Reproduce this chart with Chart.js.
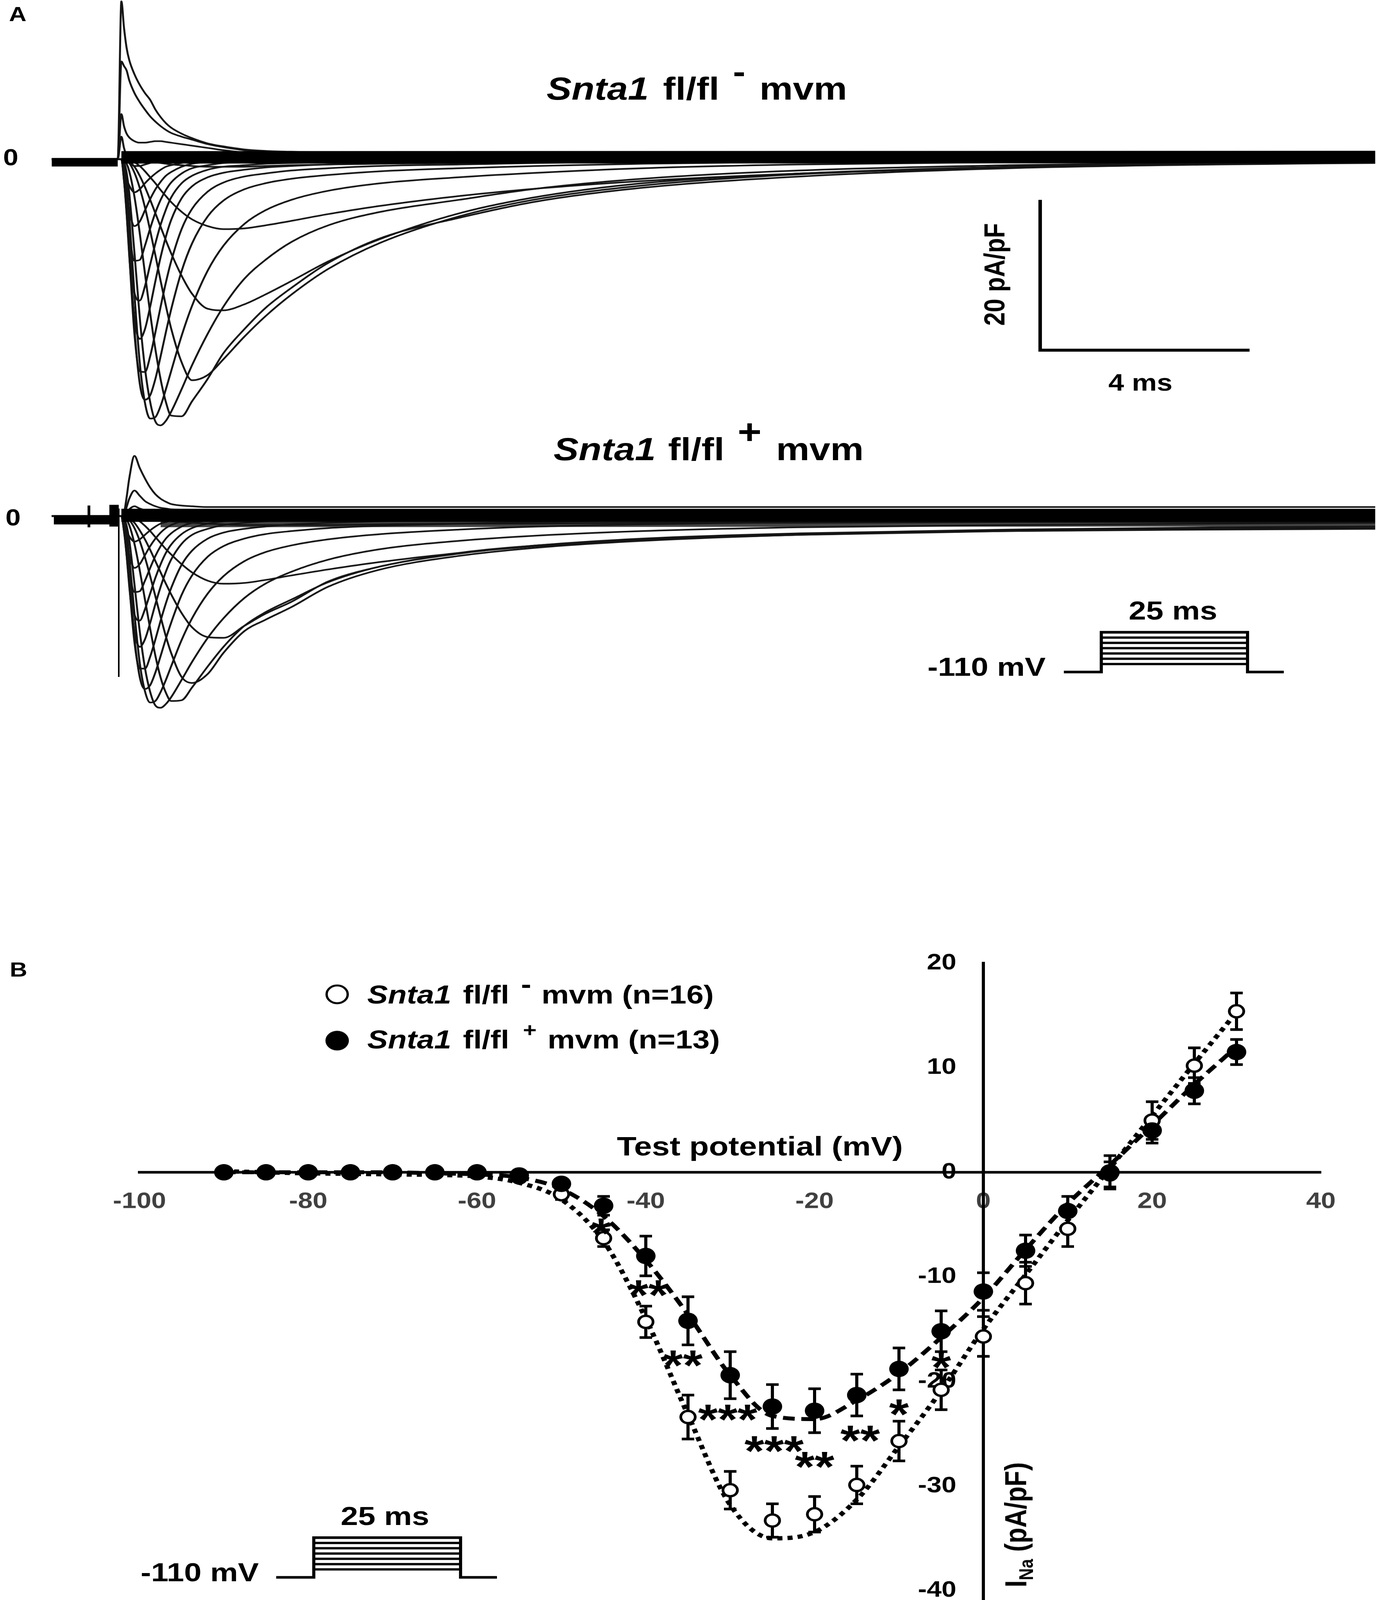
<!DOCTYPE html>
<html><head><meta charset="utf-8">
<script src="https://cdn.jsdelivr.net/npm/chart.js@4.4.1/dist/chart.umd.min.js"></script>
<style>
html{margin:0;padding:0;background:#fff;overflow:hidden;}
body{margin:0;padding:0;background:#fff;width:3522px;height:4874px;position:relative;overflow:hidden;font-family:'Liberation Sans',Arial,sans-serif;font-weight:bold;color:#000;transform-origin:0 0;}
canvas{position:absolute;}
.t{position:absolute;line-height:1;white-space:nowrap;z-index:5;}
.sp{position:relative;line-height:0;}
.rot{transform:translate(-50%,-50%) rotate(-90deg);}
.mk{position:absolute;width:60px;height:60px;border-radius:50%;box-sizing:border-box;z-index:5;}
</style></head><body>
<canvas id="cA" width="3522" height="2300" style="left:0;top:0"></canvas>
<canvas id="cPA" width="583" height="141" style="left:2713px;top:1916px"></canvas>
<canvas id="cB" width="3522" height="2300" style="left:0;top:2700px"></canvas>
<canvas id="cPB" width="585" height="141" style="left:697px;top:4674px"></canvas>

<div class="t" style="left:23px;top:12px;font-size:62px">A</div>
<div class="t" style="left:8px;top:444px;font-size:70px">0</div>
<div class="t" style="left:14px;top:1542px;font-size:70px">0</div>
<div class="t" style="left:1399px;top:222px;font-size:96px"><i>Snta1</i> <span style="margin-left:10px">fl/fl</span><span class="sp" style="top:-52px;margin-left:35px">-</span><span style="margin-left:36px">mvm</span></div>
<div class="t" style="left:1417px;top:1321px;font-size:96px"><i>Snta1</i> <span style="margin-left:5px">fl/fl</span><span class="sp" style="top:-50px;margin-left:34px;font-size:105px">+</span><span style="margin-left:37px">mvm</span></div>
<div class="t rot" style="left:2546px;top:836px;font-size:74px">20 pA/pF</div>
<div class="t" style="left:2837px;top:1129px;font-size:72px">4 ms</div>
<div class="t" style="left:2374px;top:1992px;font-size:80px">-110 mV</div>
<div class="t" style="left:2889px;top:1820px;font-size:80px">25 ms</div>

<div class="t" style="left:25px;top:2923px;font-size:62px">B</div>
<div class="mk" style="left:833px;top:2999px;border:6px solid #000;background:#fff"></div>
<div class="mk" style="left:833px;top:3140px;background:#000"></div>
<div class="t" style="left:940px;top:2990px;font-size:79px"><i>Snta1</i> <span style="margin-left:8px">fl/fl</span><span class="sp" style="top:-32px;margin-left:30px">-</span><span style="margin-left:26px">mvm (n=16)</span></div>
<div class="t" style="left:940px;top:3127px;font-size:79px"><i>Snta1</i> <span style="margin-left:8px">fl/fl</span><span class="sp" style="top:-36px;margin-left:35px;font-size:60px">+</span><span style="margin-left:28px">mvm (n=13)</span></div>
<div class="t" style="left:1579px;top:3451px;font-size:82px">Test potential (mV)</div>
<div class="t rot" style="left:2600px;top:4645px;font-size:78px">I<sub style="font-size:0.65em;line-height:0">Na</sub> (pA/pF)</div>
<div class="t" style="left:360px;top:4750px;font-size:80px">-110 mV</div>
<div class="t" style="left:872px;top:4579px;font-size:80px">25 ms</div>

<script>
// fit the full 3522x4874 figure into the viewport if the window is shorter
(function () {
  const k = Math.min(1, window.innerHeight / 4874);
  if (k < 1) document.body.style.transform = 'scale(1,' + k + ')';
})();

// ---------- Panel B : I-V data ----------
const voltages   = [-90,-85,-80,-75,-70,-65,-60,-55,-50,-45,-40,-35,-30,-25,-20,-15,-10,-5,0,5,10,15,20,25,30];
const minusMean  = [0,0,0,0,0,0,0,-0.5,-2.1,-6.3,-14.3,-23.4,-30.4,-33.3,-32.7,-29.9,-25.7,-20.8,-15.7,-10.6,-5.4,-0.2,4.95,10.2,15.4];
const minusSem   = [0,0,0,0,0,0,0.2,0.3,0.5,0.8,1.5,2.1,1.8,1.6,1.7,1.8,1.9,1.9,1.9,2.0,1.7,1.2,1.8,1.7,1.75];
const plusMean   = [0,0,0,0,0,0,0,-0.3,-1.1,-3.2,-8.0,-14.2,-19.4,-22.4,-22.8,-21.3,-18.8,-15.2,-11.4,-7.5,-3.7,0.0,4.0,7.8,11.5];
const plusSem    = [0,0,0,0,0,0,0.2,0.2,0.4,0.9,1.9,2.3,2.25,2.1,2.1,2.0,2.0,1.95,1.8,1.5,1.4,1.6,1.2,1.25,1.2];
const minusTrend = [0.1,0,-0.1,-0.15,-0.2,-0.25,-0.4,-1.0,-2.6,-6.6,-14.0,-23.2,-31.8,-35.0,-34.4,-31.3,-26.2,-20.9,-15.0,-9.8,-4.6,0.4,5.4,10.4,15.3];
const plusTrend  = [0,0,0,0,0,-0.1,-0.2,-0.5,-1.6,-4.2,-8.4,-13.6,-19.4,-23.3,-23.6,-21.8,-19.2,-15.8,-12.0,-7.4,-3.0,0.7,4.5,8.4,12.0];
const xTicks     = [-100,-80,-60,-40,-20,0,20,40];
const yTicks     = [-40,-30,-20,-10,0,10,20];
const starX      = [-45.3,-39.7,-35.6,-30.3,-24.8,-20.0,-14.6,-10.0,-5.0];
const starY      = [-5.2,-11.1,-17.8,-23.0,-26.0,-27.5,-25.0,-22.5,-18.0];
const starText   = ['*','**','**','***','***','**','**','*','*'];

// ---------- Panel A : current traces (time ms, current pA/pF) ----------
const traceTime = [-1.28,-0.02,0.05,0.1,0.15,0.2,0.3,0.4,0.5,0.6,0.7,0.8,0.9,1.0,1.2,1.4,1.7,2.0,2.4,2.8,3.3,4.0,5.0,6.5,8.0,10,13,17,21,24];
// Snta1 fl/fl - mvm
const mi_m55 = [0,0,0,0,0,0,0,-0.1,-0.2,-0.3,-0.4,-0.5,-0.6,-0.7,-0.8,-0.9,-1.0,-1.0,-1.0,-0.9,-0.8,-0.7,-0.6,-0.5,-0.4,-0.35,-0.3,-0.25,-0.2,-0.2];
const mi_m50 = [0,0,0,0,0,-0.1,-0.4,-0.9,-1.6,-2.4,-3.2,-4.1,-4.9,-5.7,-7.0,-8.0,-8.9,-9.3,-9.2,-8.8,-8.2,-7.3,-6.2,-4.9,-3.9,-2.9,-1.9,-1.1,-0.6,-0.4];
const mi_m45 = [0,0,0,0,-0.1,-0.3,-1.0,-2.2,-3.7,-5.4,-7.2,-9.0,-10.8,-12.5,-15.5,-17.9,-19.9,-20.1,-19.3,-18.0,-16.2,-13.6,-10.6,-7.2,-5.0,-3.2,-1.9,-1.0,-0.6,-0.4];
const mi_m40 = [0,0,0,0,-0.2,-0.5,-1.8,-3.8,-6.4,-9.5,-12.8,-16.2,-19.5,-22.5,-27.0,-29.4,-28.7,-26.6,-23.6,-20.9,-18.0,-14.6,-11.1,-7.6,-5.3,-3.5,-2.0,-1.1,-0.6,-0.4];
const mi_m35 = [0,0,0,-0.1,-0.6,-1.6,-5.0,-9.8,-15.2,-20.5,-25.3,-29.3,-32.3,-34.1,-34.2,-32.2,-29.2,-25.8,-22.6,-19.8,-17.1,-13.8,-10.5,-7.8,-5.6,-3.8,-2.3,-1.2,-0.7,-0.5];
const mi_m30 = [0,0,0,-0.4,-1.8,-4.5,-12.5,-21.0,-27.8,-32.3,-34.9,-35.4,-34.8,-33.6,-30.6,-27.4,-23.2,-19.6,-15.9,-13.4,-11.0,-8.8,-7.0,-5.4,-3.9,-2.6,-1.5,-0.8,-0.4,-0.3];
const mi_m25 = [0,0,0,-0.8,-3.2,-7.5,-18.0,-27.0,-32.4,-34.5,-34.3,-32.8,-30.6,-28.2,-23.5,-19.5,-14.8,-11.5,-8.6,-6.8,-5.4,-4.2,-3.2,-2.4,-1.8,-1.2,-0.7,-0.4,-0.2,-0.1];
const mi_m20 = [0,0,0,-1.3,-4.8,-10.5,-22.5,-29.8,-32.0,-31.4,-29.2,-26.2,-23.0,-20.0,-14.9,-11.2,-7.6,-5.5,-4.0,-3.2,-2.6,-2.1,-1.6,-1.2,-0.9,-0.6,-0.35,-0.2,-0.1,0];
const mi_m15 = [0,0,0,-2.0,-6.5,-12.5,-23.3,-28.2,-28.3,-26.2,-23.0,-19.6,-16.4,-13.6,-9.3,-6.6,-4.3,-3.1,-2.3,-1.9,-1.5,-1.2,-0.9,-0.7,-0.5,-0.35,-0.2,-0.1,0,0];
const mi_m10 = [0,0,0,-2.5,-7.2,-12.8,-21.2,-23.9,-22.6,-19.6,-16.2,-13.0,-10.3,-8.1,-5.2,-3.6,-2.4,-1.8,-1.4,-1.1,-0.9,-0.7,-0.55,-0.4,-0.3,-0.2,-0.1,0,0,0];
const mi_m5  = [0,0,0,-2.8,-7.2,-12.0,-17.8,-18.8,-16.9,-14.0,-11.2,-8.7,-6.7,-5.1,-3.2,-2.2,-1.4,-1.0,-0.8,-0.6,-0.5,-0.4,-0.3,-0.2,-0.15,-0.1,0,0,0,0];
const mi_p0  = [0,0,0,-2.8,-6.4,-9.8,-13.5,-13.4,-11.5,-9.2,-7.1,-5.4,-4.1,-3.1,-1.9,-1.2,-0.8,-0.5,-0.4,-0.3,-0.25,-0.2,-0.15,-0.1,0,0,0,0,0,0];
const mi_p5  = [0,0,0,-2.2,-4.6,-6.8,-8.9,-8.3,-6.8,-5.3,-4.0,-3.0,-2.2,-1.7,-1.0,-0.6,-0.4,-0.3,-0.2,-0.15,-0.1,-0.1,0,0,0,0,0,0,0,0];
const mi_p10 = [0,0,0,-1.3,-2.6,-3.5,-4.4,-4.0,-3.2,-2.5,-1.9,-1.4,-1.0,-0.8,-0.5,-0.3,-0.2,-0.1,-0.1,0,0,0,0,0,0,0,0,0,0,0];
const mi_p15 = [0,0,3.0,1.5,0.4,-0.3,-0.9,-0.9,-0.7,-0.5,-0.3,-0.2,-0.1,0,0.1,0.1,0.15,0.2,0.2,0.2,0.2,0.2,0.2,0.2,0.2,0.2,0.2,0.2,0.2,0.2];
const mi_p20 = [0,0,6.0,4.4,3.4,2.9,2.4,2.2,2.2,2.3,2.4,2.4,2.3,2.2,2.0,1.8,1.5,1.2,0.9,0.7,0.6,0.5,0.45,0.4,0.4,0.4,0.4,0.4,0.4,0.4];
const mi_p25 = [0,0,13.0,12.4,11.8,10.5,8.8,7.6,6.6,5.7,5.0,4.4,3.9,3.5,3.0,2.6,2.0,1.6,1.2,1.0,0.8,0.7,0.65,0.6,0.6,0.6,0.6,0.6,0.6,0.6];
const mi_p30 = [0,0,21.0,17.5,14.8,13.2,11.3,9.9,8.8,7.9,6.6,5.6,4.8,4.2,3.4,2.8,2.1,1.7,1.3,1.1,1.0,0.9,0.85,0.8,0.8,0.8,0.8,0.8,0.8,0.8];
// Snta1 fl/fl + mvm
const pl_m55 = [0,0,0,0,0,0,0,-0.1,-0.2,-0.3,-0.4,-0.5,-0.6,-0.7,-0.8,-0.9,-1.0,-1.1,-1.2,-1.2,-1.2,-1.2,-1.1,-1.0,-1.0,-0.9,-0.9,-0.8,-0.8,-0.8];
const pl_m50 = [0,0,0,0,0,-0.1,-0.3,-0.7,-1.3,-2.0,-2.8,-3.6,-4.4,-5.1,-6.4,-7.5,-8.6,-9.0,-8.9,-8.5,-7.9,-7.1,-6.1,-4.9,-4.0,-3.2,-2.5,-2.0,-1.7,-1.6];
const pl_m45 = [0,0,0,0,-0.1,-0.3,-0.9,-1.9,-3.1,-4.5,-6.0,-7.5,-9.0,-10.4,-12.9,-14.8,-16.1,-16.2,-14.6,-13.0,-11.4,-8.7,-6.7,-4.9,-3.9,-3.1,-2.4,-1.9,-1.7,-1.6];
const pl_m40 = [0,0,0,0,-0.2,-0.5,-1.6,-3.3,-5.5,-8.0,-10.7,-13.4,-16.0,-18.2,-21.4,-22.2,-21.0,-18.2,-15.3,-13.8,-12.1,-9.4,-7.1,-5.3,-4.2,-3.3,-2.5,-2.0,-1.8,-1.7];
const pl_m35 = [0,0,0,-0.1,-0.5,-1.2,-3.7,-7.2,-11.1,-15.0,-18.6,-21.5,-23.5,-24.6,-24.5,-22.8,-20.0,-17.4,-14.6,-12.8,-11.1,-8.8,-6.7,-5.0,-3.9,-3.0,-2.3,-1.8,-1.5,-1.4];
const pl_m30 = [0,0,0,-0.3,-1.3,-3.2,-9.1,-15.3,-20.2,-23.4,-25.2,-25.5,-25.0,-24.1,-21.8,-19.4,-16.2,-13.6,-10.9,-9.0,-7.4,-5.8,-4.4,-3.3,-2.6,-2.0,-1.5,-1.2,-1.0,-0.9];
const pl_m25 = [0,0,0,-0.6,-2.3,-5.4,-13.0,-19.5,-23.3,-24.8,-24.6,-23.4,-21.8,-20.0,-16.5,-13.6,-10.3,-8.0,-6.0,-4.8,-3.9,-3.1,-2.4,-1.8,-1.4,-1.1,-0.8,-0.6,-0.5,-0.5];
const pl_m20 = [0,0,0,-0.9,-3.4,-7.5,-16.2,-21.4,-23.0,-22.5,-20.8,-18.6,-16.3,-14.2,-10.5,-7.9,-5.4,-4.0,-3.0,-2.4,-2.0,-1.6,-1.3,-1.0,-0.8,-0.6,-0.5,-0.4,-0.3,-0.3];
const pl_m15 = [0,0,0,-1.4,-4.7,-9.0,-16.8,-20.3,-20.3,-18.7,-16.4,-13.9,-11.6,-9.6,-6.5,-4.6,-3.0,-2.2,-1.7,-1.4,-1.1,-0.9,-0.7,-0.6,-0.5,-0.4,-0.3,-0.2,-0.2,-0.2];
const pl_m10 = [0,0,0,-1.8,-5.2,-9.3,-15.4,-17.4,-16.4,-14.2,-11.7,-9.4,-7.4,-5.8,-3.7,-2.5,-1.7,-1.2,-0.9,-0.7,-0.6,-0.5,-0.4,-0.3,-0.2,-0.2,-0.1,-0.1,0,0];
const pl_m5  = [0,0,0,-2.0,-5.2,-8.8,-13.1,-13.9,-12.4,-10.3,-8.2,-6.4,-4.9,-3.8,-2.4,-1.6,-1.0,-0.7,-0.5,-0.4,-0.3,-0.3,-0.2,-0.2,-0.1,0,0,0,0,0];
const pl_p0  = [0,0,0,-2.0,-4.6,-7.3,-10.1,-10.0,-8.6,-6.9,-5.3,-4.0,-3.0,-2.3,-1.4,-0.9,-0.6,-0.4,-0.3,-0.2,-0.2,-0.1,0,0,0,0,0,0,0,0];
const pl_p5  = [0,0,0,-1.6,-3.5,-5.2,-6.9,-6.4,-5.2,-4.0,-3.0,-2.2,-1.6,-1.2,-0.7,-0.5,-0.3,-0.2,-0.1,0,0,0,0,0.1,0.1,0.1,0.1,0.1,0.1,0.1];
const pl_p10 = [0,0,0,-1.0,-2.0,-2.7,-3.4,-3.1,-2.5,-1.9,-1.4,-1.0,-0.8,-0.6,-0.4,-0.2,-0.1,0,0,0.1,0.1,0.2,0.2,0.2,0.2,0.2,0.2,0.2,0.2,0.2];
const pl_p15 = [0,0,0,0.2,0.4,0.5,0.3,-0.2,-0.4,-0.4,-0.3,-0.2,-0.1,0,0.1,0.2,0.3,0.3,0.3,0.3,0.3,0.3,0.3,0.3,0.3,0.3,0.3,0.3,0.3,0.3];
const pl_p20 = [0,0,0,0.1,0.5,0.9,1.3,1.0,0.8,0.7,0.6,0.6,0.55,0.5,0.5,0.5,0.5,0.5,0.5,0.5,0.5,0.5,0.5,0.5,0.5,0.5,0.5,0.5,0.5,0.5];
const pl_p25 = [0,0,0,0.2,1.2,2.3,3.4,2.7,2.0,1.6,1.3,1.1,1.0,0.9,0.85,0.8,0.8,0.8,0.8,0.8,0.8,0.8,0.8,0.8,0.8,0.8,0.8,0.8,0.8,0.8];
const pl_p30 = [0,0,0,0.4,2.5,5.0,8.0,6.4,5.0,3.8,2.9,2.3,1.9,1.6,1.4,1.3,1.2,1.2,1.2,1.2,1.2,1.2,1.2,1.2,1.2,1.2,1.2,1.2,1.2,1.2];
// overlapping noisy baselines and artefacts (time, current)
const bandMinusT = [0.05, 24],  bandMinusI = [0.25, 0.3];
const preMinusT  = [-1.28, -0.02], preMinusI = [-0.4, -0.4];
const bandPlusT  = [0.05, 24],  bandPlusI  = [0.1, 0.1];
const subPlusT   = [0.8, 24],   subPlusI   = [-1.0, -0.9];
const prePlusT   = [-1.24, -0.02], prePlusI = [-0.5, -0.5];
const tickPlusT  = [-0.57, -0.57], tickPlusI = [1.4, -1.5];
const blockPlusT = [-0.09, -0.09], blockPlusI = [1.5, -1.4];
const spikePlusT = [0.0, 0.0],  spikePlusI = [1.0, -21.4];
// scale bar: 4 ms x 20 pA/pF
const scaleBarT = [17.6, 17.6, 21.6];
const scaleBarI = [-5.4, -25.4, -25.4];
// voltage protocol schematic (ms, relative step level)
const protoT = [-6.4, 0, 0, 25, 25, 31.2];
const protoV = [0, 0, 7.5, 7.5, 0, 0];
const protoLevels = [7.5, 6.5, 5.5, 4.5, 3.5, 2.5, 1.5];
const protoStepT = [0, 25];

// ---------- helpers ----------
Chart.defaults.font.family = "'Liberation Sans', Arial, sans-serif";
Chart.defaults.animation = false;
const pts = (xs, ys) => xs.map((x, i) => ({x, y: ys[i]}));

const minusTraces = [mi_m55,mi_m50,mi_m45,mi_m40,mi_m35,mi_m30,mi_m25,mi_m20,mi_m15,mi_m10,mi_m5,mi_p0,mi_p5,mi_p10,mi_p15,mi_p20,mi_p25,mi_p30];
const plusTraces  = [pl_m55,pl_m50,pl_m45,pl_m40,pl_m35,pl_m30,pl_m25,pl_m20,pl_m15,pl_m10,pl_m5,pl_p0,pl_p5,pl_p10,pl_p15,pl_p20,pl_p25,pl_p30];

const dsA = [];
function straight(xs, ys, axis, w, color) {
  dsA.push({data: pts(xs, ys), yAxisID: axis, showLine: true, pointRadius: 0, borderColor: color || '#000',
            borderWidth: w, tension: 0, borderCapStyle: 'butt', borderJoinStyle: 'miter', clip: false});
}
straight(bandMinusT, bandMinusI, 'y1', 38);
straight(preMinusT, preMinusI, 'y1', 26);
straight(bandPlusT, bandPlusI, 'y2', 40);
straight(subPlusT, subPlusI, 'y2', 22, 'rgba(20,20,20,0.8)');
straight(prePlusT, prePlusI, 'y2', 28);
straight(tickPlusT, tickPlusI, 'y2', 7);
straight(blockPlusT, blockPlusI, 'y2', 24);
straight(spikePlusT, spikePlusI, 'y2', 4);
straight(scaleBarT, scaleBarI, 'y1', 9);
minusTraces.forEach(tr => dsA.push({data: pts(traceTime, tr), yAxisID: 'y1', showLine: true, pointRadius: 0,
  borderColor: '#151515', borderWidth: 5, cubicInterpolationMode: 'monotone', borderJoinStyle: 'round', clip: false}));
plusTraces.forEach(tr => dsA.push({data: pts(traceTime, tr), yAxisID: 'y2', showLine: true, pointRadius: 0,
  borderColor: '#151515', borderWidth: 5, cubicInterpolationMode: 'monotone', borderJoinStyle: 'round', clip: false}));

new Chart(document.getElementById('cA'), {
  type: 'scatter',
  data: {datasets: dsA},
  options: {
    responsive: false, devicePixelRatio: 1, events: [],
    layout: {padding: 0},
    plugins: {legend: {display: false}, tooltip: {enabled: false}},
    scales: {
      x:  {type: 'linear', display: false, min: -304/134, max: (3522-304)/134},
      y1: {type: 'linear', axis: 'y', display: false, min: 485/22.9 - 2300/22.9, max: 485/22.9},
      y2: {type: 'linear', axis: 'y', display: false, min: 1572/22.9 - 2300/22.9, max: 1572/22.9}
    }
  }
});

function protocolChart(id) {
  const ds = [{data: pts(protoT, protoV), showLine: true, pointRadius: 0, borderColor: '#000', borderWidth: 8,
               tension: 0, borderJoinStyle: 'miter', borderCapStyle: 'butt', clip: false}];
  protoLevels.forEach(l => ds.push({data: pts(protoStepT, [l, l]), showLine: true, pointRadius: 0,
               borderColor: '#000', borderWidth: 7, tension: 0, clip: false}));
  new Chart(document.getElementById(id), {
    type: 'scatter', data: {datasets: ds},
    options: {responsive: false, devicePixelRatio: 1, events: [], layout: {padding: 10},
      plugins: {legend: {display: false}, tooltip: {enabled: false}},
      scales: {x: {type: 'linear', display: false, min: -6.4, max: 31.2},
               y: {type: 'linear', display: false, min: 0, max: 7.5}}}
  });
}
protocolChart('cPA');
protocolChart('cPB');

// ---------- Panel B chart ----------
const errorBars = {
  id: 'errorBars',
  beforeDatasetsDraw(chart) {
    const {ctx, scales: {x, y}} = chart;
    ctx.save();
    ctx.strokeStyle = '#000'; ctx.lineWidth = 8; ctx.lineCap = 'butt';
    [[minusMean, minusSem], [plusMean, plusSem]].forEach(([m, s]) => {
      voltages.forEach((v, i) => {
        if (!s[i]) return;
        const px = x.getPixelForValue(v);
        const a = y.getPixelForValue(m[i] + s[i]), b = y.getPixelForValue(m[i] - s[i]);
        ctx.beginPath();
        ctx.moveTo(px, a); ctx.lineTo(px, b);
        ctx.moveTo(px - 16, a); ctx.lineTo(px + 16, a);
        ctx.moveTo(px - 16, b); ctx.lineTo(px + 16, b);
        ctx.stroke();
      });
    });
    ctx.restore();
  }
};
const stars = {
  id: 'stars',
  afterDatasetsDraw(chart) {
    const {ctx, scales: {x, y}} = chart;
    ctx.save();
    ctx.fillStyle = '#000';
    ctx.font = "bold 130px 'Liberation Sans', Arial, sans-serif";
    ctx.textAlign = 'center'; ctx.textBaseline = 'alphabetic';
    starText.forEach((t, i) => {
      const m = ctx.measureText(t);
      const px = x.getPixelForValue(starX[i]);
      const py = y.getPixelForValue(starY[i]) + (m.actualBoundingBoxAscent - m.actualBoundingBoxDescent) / 2;
      ctx.fillText(t, px, py);
    });
    ctx.restore();
  }
};

const tickFont = {size: 68, weight: 'bold'};
new Chart(document.getElementById('cB'), {
  type: 'scatter',
  data: {datasets: [
    {data: pts(voltages, plusMean), yAxisID: 'y', pointRadius: 25, pointBackgroundColor: '#000', pointBorderWidth: 0, order: 0},
    {data: pts(voltages, minusMean), yAxisID: 'y', pointRadius: 18.5, pointBackgroundColor: '#fff', pointBorderColor: '#000', pointBorderWidth: 7, order: 1},
    {data: pts(voltages, plusTrend), yAxisID: 'y', showLine: true, pointRadius: 0, borderColor: '#000', borderWidth: 12,
     borderDash: [30, 17], borderCapStyle: 'butt', cubicInterpolationMode: 'monotone', order: 2},
    {data: pts(voltages, minusTrend), yAxisID: 'y', showLine: true, pointRadius: 0, borderColor: '#000', borderWidth: 13,
     borderDash: [13, 13], borderCapStyle: 'butt', cubicInterpolationMode: 'monotone', order: 3}
  ]},
  options: {
    responsive: false, devicePixelRatio: 1, events: [],
    layout: {padding: {left: 357, right: 141, top: 234, bottom: 126}},
    plugins: {legend: {display: false}, tooltip: {enabled: false}},
    scales: {
      x: {type: 'linear', position: {y: 0}, min: xTicks[0], max: xTicks[xTicks.length - 1],
          afterBuildTicks: s => { s.ticks = xTicks.map(v => ({value: v})); },
          ticks: {font: tickFont, color: '#404040', padding: 49, maxRotation: 0, autoSkip: false},
          grid: {display: false, drawTicks: false}, border: {display: true, width: 8, color: '#000'}},
      y: {type: 'linear', axis: 'y', position: {x: 0}, min: -40.9, max: 20,
          ticks: {display: false}, grid: {display: false, drawTicks: false},
          border: {display: true, width: 8, color: '#000'}},
      yl: {type: 'linear', axis: 'y', position: {x: -3.2}, min: -40.9, max: 20,
          afterBuildTicks: s => { s.ticks = yTicks.map(v => ({value: v})); },
          ticks: {font: tickFont, color: '#000', autoSkip: false},
          grid: {display: false, drawTicks: false}, border: {display: false}}
    }
  },
  plugins: [errorBars, stars]
});
</script>
</body></html>
